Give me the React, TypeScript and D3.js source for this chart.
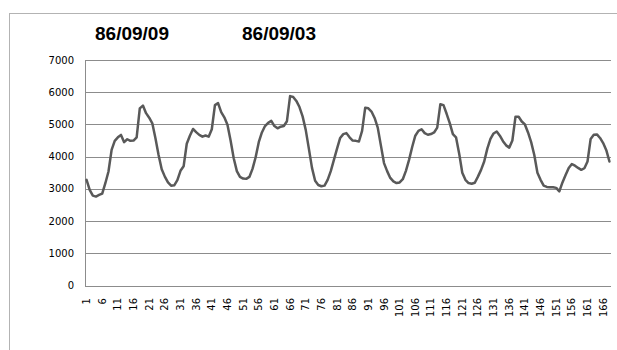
import React from "react";
import * as d3 from "d3";

const titles = ["86/09/09", "86/09/03"];
const yTicks = [0, 1000, 2000, 3000, 4000, 5000, 6000, 7000];
const hours = d3.range(1, 169);
const load = [
  3280, 2970, 2790, 2760, 2810, 2855, 3175, 3540, 4210, 4490, 4600, 4675,
  4450, 4540, 4490, 4500, 4600, 5500, 5585, 5350, 5210, 5035, 4570, 4050,
  3610, 3380, 3200, 3100, 3110, 3270, 3560, 3700, 4400, 4650, 4860, 4760,
  4675, 4620, 4655, 4620, 4850, 5600, 5660, 5380, 5220, 4990, 4500, 3950,
  3550, 3370, 3320, 3310, 3370, 3620, 3980, 4450, 4750, 4950, 5050, 5110,
  4950, 4880, 4930, 4950, 5100, 5880, 5850, 5730, 5540, 5250, 4830, 4250,
  3650, 3250, 3120, 3080, 3100, 3280, 3550, 3900, 4250, 4580, 4700, 4730,
  4600, 4500, 4490, 4470, 4800, 5520, 5500, 5400, 5200, 4900, 4350, 3800,
  3550, 3340, 3230, 3180, 3200, 3300, 3560, 3900, 4300, 4650, 4800, 4850,
  4730, 4680, 4700, 4750, 4900, 5630, 5600, 5330, 5040, 4700, 4600, 4100,
  3500, 3280, 3180, 3160, 3190, 3380, 3590, 3850, 4250, 4550, 4720, 4780,
  4650, 4480, 4350, 4280, 4500, 5240, 5240, 5090, 5000, 4750, 4450, 4050,
  3500, 3280, 3100, 3060, 3050, 3050, 3030, 2920, 3200, 3430, 3650, 3770,
  3720, 3650, 3590, 3640, 3850, 4550, 4680, 4690, 4580, 4420, 4200, 3850,
];
const xLabels = hours.filter((h) => (h - 1) % 5 === 0);

export default function App() {
  const W = 617;
  const H = 350;
  const left = 85;
  const right = 611;
  const top = 60;
  const bottom = 285.5;

  const x = d3
    .scaleBand<number>()
    .domain(hours)
    .range([left, right])
    .padding(0);
  const cx = (h: number) => (x(h) as number) + x.bandwidth() / 2;
  const y = d3.scaleLinear().domain([0, 7000]).range([bottom, top]);

  const line = d3
    .line<number>()
    .x((_, i) => cx(hours[i]))
    .y((d) => y(d));

  const font = "'DejaVu Sans', Verdana, sans-serif";

  return (
    <svg
      width={W}
      height={H}
      style={{ position: "absolute", left: 0, top: 0, background: "#fff" }}
    >
      <rect x={0} y={0} width={W} height={H} fill="#fff" />
      <rect
        x={9.5}
        y={13.5}
        width={W + 20}
        height={H + 20}
        fill="none"
        stroke="#b3b3b3"
        strokeWidth={1}
      />
      <text
        x={95}
        y={40}
        fontFamily="'Liberation Sans', Arial, sans-serif"
        fontWeight="bold"
        fontSize={19}
        fill="#000"
      >
        {titles[0]}
      </text>
      <text
        x={242}
        y={40}
        fontFamily="'Liberation Sans', Arial, sans-serif"
        fontWeight="bold"
        fontSize={19}
        fill="#000"
      >
        {titles[1]}
      </text>
      {yTicks.map((t) => (
        <g key={t}>
          <line
            x1={left}
            x2={right}
            y1={Math.round(y(t)) + 0.5}
            y2={Math.round(y(t)) + 0.5}
            stroke="#8c8c8c"
            strokeWidth={1}
          />
          <text
            x={74}
            y={y(t)}
            dy="0.35em"
            textAnchor="end"
            fontFamily={font}
            fontSize={10}
            fill="#000"
          >
            {t}
          </text>
        </g>
      ))}
      <line
        x1={left + 0.5}
        x2={left + 0.5}
        y1={top}
        y2={Math.round(bottom) + 0.5}
        stroke="#8c8c8c"
        strokeWidth={1}
      />
      {xLabels.map((h) => (
        <text
          key={h}
          transform={`translate(${cx(h)},298) rotate(-90)`}
          dy="0.35em"
          textAnchor="end"
          fontFamily={font}
          fontSize={10}
          fill="#000"
        >
          {h}
        </text>
      ))}
      <path
        d={line(load) as string}
        fill="none"
        stroke="#595959"
        strokeWidth={2.5}
        strokeLinejoin="round"
        strokeLinecap="round"
      />
    </svg>
  );
}
